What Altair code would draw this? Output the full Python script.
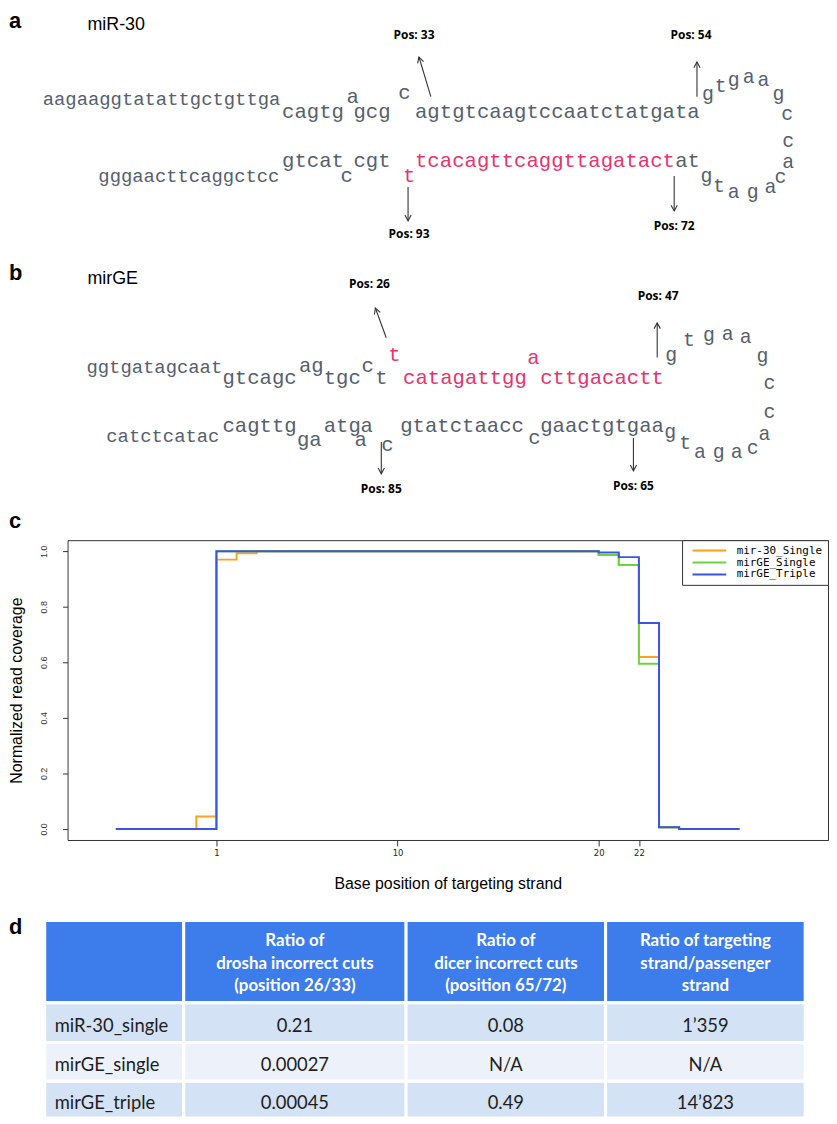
import math
import altair as alt
import pandas as pd

# ---------------- layout constants (px) ----------------
UNIT = 12.48          # width of one nucleotide column of the stem font
GUTTER = 59           # room left of the plot frame (panel letters, y axis)
W = 766               # common panel width (= plot frame width)
H_A, H_B, H_C, H_D = 240, 292, 302, 280
TITLE_BASE = 18       # offset of a panel letter's glyph centre from its title dy

GRAY = "#56606e"
RED = "#e8336f"
MONO = "Liberation Mono"
SANS = "Liberation Sans"
HEAD = "M-0.6,1.1L0,0L0.6,1.1"

# ---------------- panel a : miR-30 hairpin ----------------
a_tail_seq = ["aagaaggtatattgctgttga", "gggaacttcaggctcc"]
a_tail_col = [2.72, 7.21]
a_tail_row = [6.99, 13.24]

a_stem_seq = ["cagtg", "a", "gcg", "c", "agtgtcaagtccaatctatgata",
              "gtcat", "c", "cgt", "at"]
a_stem_col = [22.04, 27.24, 27.80, 31.41, 32.77, 22.04, 26.76, 27.80, 53.77]
a_stem_row = [8.07, 6.83, 8.07, 6.51, 8.07, 12.04, 13.24, 12.04, 12.04]

a_red_seq = ["t", "tcacagttcaggttagatact"]
a_red_col = [31.81, 32.77]
a_red_row = [13.24, 12.04]

a_loop_seq = list("gtgaagccacagatg")
a_loop_col = [56.41, 57.45, 58.49, 59.70, 60.90, 62.10, 62.82, 62.90,
              62.90, 62.26, 61.46, 60.02, 58.49, 57.30, 56.30]
a_loop_row = [6.59, 5.95, 5.47, 5.23, 5.47, 6.59, 8.27, 10.44,
              12.12, 13.32, 14.12, 14.52, 14.52, 14.04, 13.24]

a_pos_text = ["Pos: 33", "Pos: 54", "Pos: 93", "Pos: 72"]
a_pos_col = [32.69, 55.05, 32.29, 53.69]
a_pos_row = [1.86, 1.86, 17.95, 17.27]

a_arrow_col = [34.05, 55.53, 32.21, 53.69]
a_arrow_row = [6.83, 6.83, 14.12, 13.24]
a_arrow_col2 = [33.09, 55.53, 32.21, 53.69]
a_arrow_row2 = [3.63, 4.03, 16.85, 16.05]

a_name, a_name_col, a_name_row = ["miR-30"], [6.33], [1.06]

# ---------------- panel b : mirGE hairpin ----------------
b_tail_seq = ["ggtgatagcaat", "catctcatac"]
b_tail_col = [6.25, 7.85]
b_tail_row = [9.39, 14.99]

b_stem_seq = ["gtcagc", "ag", "tgc", "c", "t", "cagttg", "ga", "atg", "a",
              "a", "c", "gtatctaacc", "c", "gaactgtgaa"]
b_stem_col = [17.23, 23.40, 25.40, 28.45, 29.57, 17.23, 23.24, 25.40, 28.37,
              27.88, 30.05, 31.57, 41.91, 42.87]
b_stem_row = [10.27, 9.31, 10.27, 9.31, 10.27, 14.19, 15.31, 14.19, 14.19,
              15.31, 15.72, 14.19, 15.15, 14.19]

b_red_seq = ["t", "catagattgg", "a", "cttgacactt"]
b_red_col = [30.61, 31.81, 41.83, 42.87]
b_red_row = [8.42, 10.27, 8.66, 10.27]

b_loop_seq = list("gtgaagccacagatg")
b_loop_col = [53.45, 54.89, 56.49, 58.01, 59.46, 60.82, 61.38, 61.38,
              60.98, 60.02, 58.73, 57.29, 55.77, 54.57, 53.37]
b_loop_row = [8.42, 7.22, 6.82, 6.74, 6.98, 8.50, 10.75, 13.07,
              14.83, 15.96, 16.28, 16.28, 16.28, 15.56, 14.67]

b_pos_text = ["Pos: 26", "Pos: 47", "Pos: 85", "Pos: 65"]
b_pos_col = [29.09, 52.40, 30.05, 50.40]
b_pos_row = [2.73, 3.70, 19.24, 19.00]

b_arrow_col = [30.45, 52.32, 30.05, 50.40]
b_arrow_row = [7.06, 8.66, 15.48, 15.15]
b_arrow_col2 = [29.57, 52.32, 30.05, 50.40]
b_arrow_row2 = [4.66, 5.86, 18.04, 17.80]

b_name, b_name_col, b_name_row = ["mirGE"], [6.33], [2.33]

# ---------------- panel c : read coverage ----------------
series_names = ["mir-30_Single", "mirGE_Single", "mirGE_Triple"]
series_colors = ["#ffa01c", "#6cd43c", "#3b55dc"]
base_pos = [-4, -3, -2, -1, 0, 1, 2, 3, 4, 5, 6, 7, 8, 9, 10, 11, 12, 13,
            14, 15, 16, 17, 18, 19, 20, 21, 22, 23, 24, 25, 26, 27]
cov_mir30 = [0, 0, 0, 0, 0.045, 0.97, 0.993, 1.0, 1.0, 1.0, 1.0, 1.0, 1.0,
             1.0, 1.0, 1.0, 1.0, 1.0, 1.0, 1.0, 1.0, 1.0, 1.0, 1.0,
             0.987, 0.951, 0.619, 0.006, 0, 0, 0, 0]
cov_mirge_single = [0, 0, 0, 0, 0, 1.0, 1.0, 1.0, 1.0, 1.0, 1.0, 1.0, 1.0,
                    1.0, 1.0, 1.0, 1.0, 1.0, 1.0, 1.0, 1.0, 1.0, 1.0, 1.0,
                    0.987, 0.951, 0.595, 0.006, 0, 0, 0, 0]
cov_mirge_triple = [0, 0, 0, 0, 0, 1.0, 1.0, 1.0, 1.0, 1.0, 1.0, 1.0, 1.0,
                    1.0, 1.0, 1.0, 1.0, 1.0, 1.0, 1.0, 1.0, 1.0, 1.0, 1.0,
                    0.996, 0.979, 0.742, 0.006, 0, 0, 0, 0]
x_ticks = [1, 10, 20, 22]
y_ticks = [0, 0.2, 0.4, 0.6, 0.8, 1.0]

# ---------------- panel d : table ----------------
row_names = ["miR-30_single", "mirGE_single", "mirGE_triple"]
col_headers = ["",
               "Ratio of\ndrosha incorrect cuts\n(position 26/33)",
               "Ratio of\ndicer incorrect  cuts\n(position  65/72)",
               "Ratio of targeting\nstrand/passenger\nstrand"]
drosha_ratio = ["0.21", "0.00027", "0.00045"]
dicer_ratio = ["0.08", "N/A", "0.49"]
strand_ratio = ["1\u2019359", "N/A", "14\u2019823"]

TABLE_COL_W = [140, 224, 201, 201]
TABLE_ROW_H = [83, 40, 39, 37]
TABLE_INSET = 36      # table left edge from the page's left content edge
TABLE_TOP = 81        # table top below panel d origin
HEAD_LINE = 23


def letter_title(letter, center):
    return alt.TitleParams(text=letter, anchor="start", frame="group",
                           dx=-GUTTER, dy=center + TITLE_BASE, offset=0,
                           baseline="middle", font=SANS, fontSize=22,
                           fontWeight="bold", color="black")


def hairpin(tail, stem, red, loop, pos, arrows, name, height, letter, center):
    X = alt.X("col:Q", scale=alt.Scale(domain=[GUTTER / UNIT, (GUTTER + W) / UNIT],
                                       nice=False, zero=False), axis=None)
    Y = alt.Y("row:Q", scale=alt.Scale(domain=[0, height / UNIT], nice=False,
                                       zero=False, reverse=True), axis=None)
    arrows = arrows.copy()
    arrows["ang"] = [
        math.degrees(math.atan2(c2 - c1, -(r2 - r1))) % 360
        for c1, r1, c2, r2 in zip(arrows.col, arrows.row, arrows.col2, arrows.row2)
    ]
    tip = arrows[["col2", "row2", "ang"]].rename(columns={"col2": "col", "row2": "row"})
    layers = [
        alt.Chart(tail).mark_text(align="left", baseline="middle", font=MONO,
                                  fontSize=19, color=GRAY)
        .encode(x=X, y=Y, text="seq:N"),
        alt.Chart(stem).mark_text(align="left", baseline="middle", font=MONO,
                                  fontSize=20.8, color=GRAY)
        .encode(x=X, y=Y, text="seq:N"),
        alt.Chart(red).mark_text(align="left", baseline="middle", font=MONO,
                                 fontSize=20.8, color=RED)
        .encode(x=X, y=Y, text="seq:N"),
        alt.Chart(loop).mark_text(align="center", baseline="middle", font=MONO,
                                  fontSize=20, color=GRAY)
        .encode(x=X, y=Y, text="seq:N"),
        alt.Chart(pos).mark_text(align="center", baseline="middle",
                                 font="Open Sans", fontSize=12,
                                 fontWeight="bold", color="black")
        .encode(x=X, y=Y, text="label:N"),
        alt.Chart(arrows).mark_rule(color="#333333", strokeWidth=1.1)
        .encode(x=X, y=Y, x2="col2:Q", y2="row2:Q"),
        alt.Chart(tip).mark_point(shape=HEAD, size=110, filled=False,
                                  color="#333333", strokeWidth=1.1, opacity=1)
        .encode(x=X, y=Y, angle=alt.Angle("ang:Q", scale=None)),
        alt.Chart(name).mark_text(align="left", baseline="middle", font=SANS,
                                  fontSize=18, color="black")
        .encode(x=X, y=Y, text="label:N"),
    ]
    return alt.layer(*layers).properties(width=W, height=height,
                                         title=letter_title(letter, center))


def seqdf(s, c, r):
    return pd.DataFrame({"seq": s, "col": c, "row": r})


panel_a = hairpin(
    seqdf(a_tail_seq, a_tail_col, a_tail_row),
    seqdf(a_stem_seq, a_stem_col, a_stem_row),
    seqdf(a_red_seq, a_red_col, a_red_row),
    seqdf(a_loop_seq, a_loop_col, a_loop_row),
    pd.DataFrame({"label": a_pos_text, "col": a_pos_col, "row": a_pos_row}),
    pd.DataFrame({"col": a_arrow_col, "row": a_arrow_row,
                  "col2": a_arrow_col2, "row2": a_arrow_row2}),
    pd.DataFrame({"label": a_name, "col": a_name_col, "row": a_name_row}),
    H_A, "a", 12.7)

panel_b = hairpin(
    seqdf(b_tail_seq, b_tail_col, b_tail_row),
    seqdf(b_stem_seq, b_stem_col, b_stem_row),
    seqdf(b_red_seq, b_red_col, b_red_row),
    seqdf(b_loop_seq, b_loop_col, b_loop_row),
    pd.DataFrame({"label": b_pos_text, "col": b_pos_col, "row": b_pos_row}),
    pd.DataFrame({"col": b_arrow_col, "row": b_arrow_row,
                  "col2": b_arrow_col2, "row2": b_arrow_row2}),
    pd.DataFrame({"label": b_name, "col": b_name_col, "row": b_name_row}),
    H_B, "b", 27)

# ---- panel c
cov_rows = []
for name, vals in zip(series_names, [cov_mir30, cov_mirge_single, cov_mirge_triple]):
    for p, v in zip(base_pos, vals):
        cov_rows.append({"series": name, "pos": p, "cov": v})
cov_df = pd.DataFrame(cov_rows)

panel_c = alt.Chart(cov_df).mark_line(interpolate="step-after").encode(
    x=alt.X("pos:Q", scale=alt.Scale(domain=[-6.4, 31.4], nice=False, zero=False),
            axis=alt.Axis(values=x_ticks, format="d",
                          title="Base position of targeting strand",
                          domain=False, grid=False, tickSize=6,
                          tickColor="#333333", labelFont="DejaVu Sans",
                          labelFontSize=8.5, labelColor="#222222",
                          labelPadding=3, titleFont=SANS, titleFontSize=16,
                          titleFontWeight="normal", titleColor="black",
                          titlePadding=18)),
    y=alt.Y("cov:Q", scale=alt.Scale(domain=[-0.04, 1.04], nice=False, zero=False),
            axis=alt.Axis(values=y_ticks, format=".1f",
                          title="Normalized read coverage", domain=False,
                          grid=False, tickSize=5, tickColor="#333333",
                          labelAngle=270, labelAlign="center",
                          labelBaseline="bottom",
                          labelFont="Liberation Sans Narrow, Liberation Sans",
                          labelFontSize=9, labelColor="#333333",
                          labelPadding=14, titleFont=SANS, titleFontSize=16,
                          titleFontWeight="normal", titleColor="black",
                          titlePadding=15)),
    color=alt.Color("series:N",
                    scale=alt.Scale(domain=series_names, range=series_colors),
                    legend=alt.Legend(title=None, orient="top-right", offset=0,
                                      symbolType="M0,0H17", symbolSize=16,
                                      symbolStrokeWidth=5, labelOffset=39,
                                      labelFont="DejaVu Sans Mono",
                                      labelFontSize=11,
                                      labelColor="black", padding=5,
                                      rowPadding=0, strokeColor="#333333",
                                      fillColor="white", cornerRadius=0)),
    strokeWidth=alt.StrokeWidth("series:N",
                                scale=alt.Scale(domain=series_names,
                                                range=[2, 2, 2.6]),
                                legend=None),
).properties(width=W, height=H_C, title=letter_title("c", -15),
             view=alt.ViewBackground(stroke="#333333", strokeWidth=1))

# ---- panel d
x_edges = [0]
for w_ in TABLE_COL_W:
    x_edges.append(x_edges[-1] + w_)
y_edges = [0]
for h_ in TABLE_ROW_H:
    y_edges.append(y_edges[-1] + h_)

body_cols = [row_names, drosha_ratio, dicer_ratio, strand_ratio]
cells, texts = [], []
for r in range(4):
    kind = "header" if r == 0 else ("band" if r % 2 == 1 else "plain")
    for c in range(4):
        x0, x1 = x_edges[c], x_edges[c + 1]
        y0, y1 = y_edges[r], y_edges[r + 1]
        cells.append({"x0": x0, "x1": x1, "y0": y0, "y1": y1, "kind": kind})
        txt = col_headers[c] if r == 0 else body_cols[c][r - 1]
        texts.append({"txt": txt, "xc": (x0 + x1) / 2, "xl": x0 + 10,
                      "yc": (y0 + y1) / 2, "kind": kind, "c": c})
cells_df = pd.DataFrame(cells)
texts_df = pd.DataFrame(texts)

TX = alt.Scale(domain=[GUTTER - TABLE_INSET, GUTTER - TABLE_INSET + W], nice=False, zero=False)
TY = alt.Scale(domain=[-TABLE_TOP, H_D - TABLE_TOP], nice=False, zero=False, reverse=True)

t_rect = alt.Chart(cells_df).mark_rect(stroke="white", strokeWidth=3).encode(
    x=alt.X("x0:Q", scale=TX, axis=None), x2="x1:Q",
    y=alt.Y("y0:Q", scale=TY, axis=None), y2="y1:Q",
    fill=alt.Fill("kind:N", scale=alt.Scale(domain=["header", "band", "plain"],
                                            range=["#3d7deb", "#d4e2f6", "#edf2fa"]),
                  legend=None))
t_head = alt.Chart(texts_df).transform_filter("datum.kind == 'header'").mark_text(
    align="center", baseline="middle", font="Lato", fontSize=17,
    fontWeight="bold", color="white", lineBreak="\n", lineHeight=HEAD_LINE,
    dy=2 - HEAD_LINE).encode(
    x=alt.X("xc:Q", scale=TX, axis=None), y=alt.Y("yc:Q", scale=TY, axis=None),
    text="txt:N")
t_name = alt.Chart(texts_df).transform_filter("datum.kind != 'header' && datum.c == 0").mark_text(
    align="left", baseline="middle", font="Lato", fontSize=18.5, color="#1e1e1e",
    dy=3).encode(
    x=alt.X("xl:Q", scale=TX, axis=None), y=alt.Y("yc:Q", scale=TY, axis=None),
    text="txt:N")
t_val = alt.Chart(texts_df).transform_filter("datum.kind != 'header' && datum.c > 0").mark_text(
    align="center", baseline="middle", font="Lato", fontSize=18.5, color="#1e1e1e",
    dy=3).encode(
    x=alt.X("xc:Q", scale=TX, axis=None), y=alt.Y("yc:Q", scale=TY, axis=None),
    text="txt:N")
panel_d = alt.layer(t_rect, t_head, t_name, t_val).properties(
    width=W, height=H_D, title=letter_title("d", 92))

chart = alt.vconcat(panel_a, panel_b, panel_c, panel_d, spacing=0, bounds="flush").resolve_scale(
    x="independent", y="independent", color="independent",
    fill="independent", strokeWidth="independent"
).properties(
    padding={"left": 0, "top": -3, "right": 0, "bottom": 0},
    autosize=alt.AutoSizeParams(type="pad")
).configure(font=SANS).configure_view(stroke="transparent")

chart.save("out.html", embed_options={"renderer": "svg", "actions": False})
